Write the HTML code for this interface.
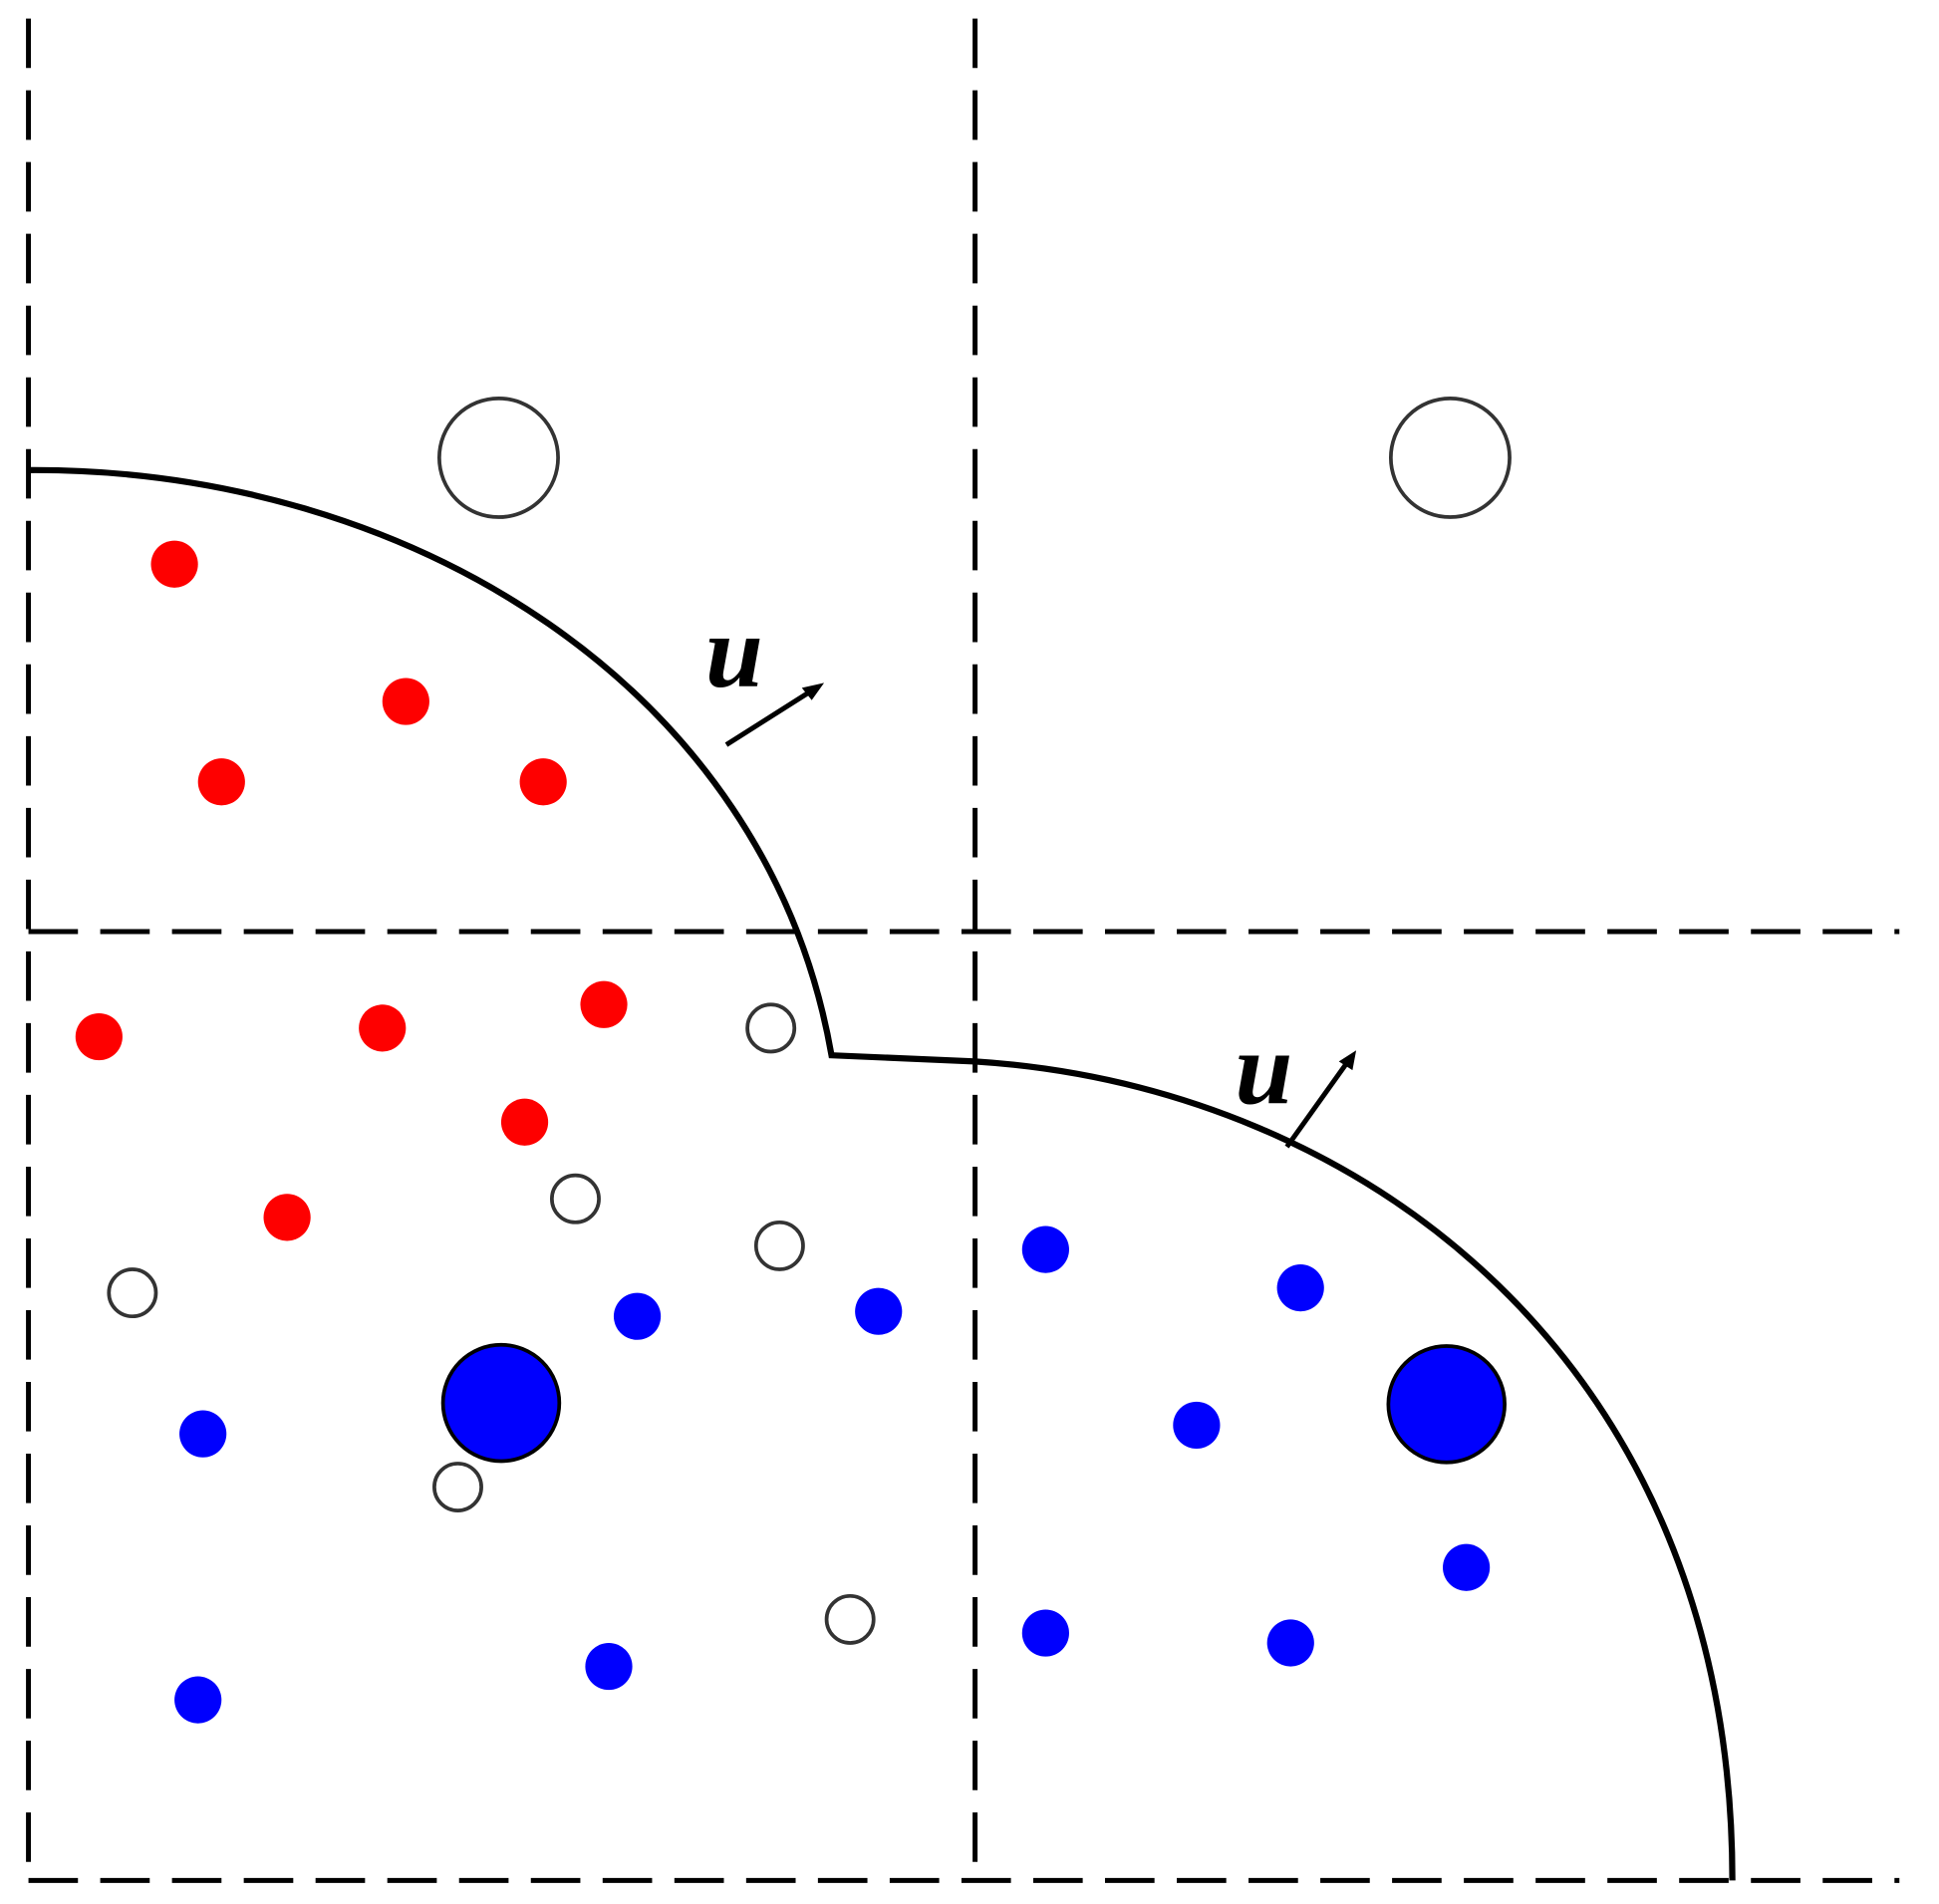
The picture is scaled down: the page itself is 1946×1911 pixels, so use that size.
<!DOCTYPE html>
<html><head><meta charset="utf-8"><style>html,body{margin:0;padding:0;background:#fff}svg{display:block}</style></head>
<body>
<svg width="1946" height="1911" viewBox="0 0 1567 1539" preserveAspectRatio="none" xmlns="http://www.w3.org/2000/svg">
<rect width="1567" height="1539" fill="#fff"/>
<g stroke="#000" stroke-width="4" stroke-dasharray="40 18" fill="none">
<line x1="23" y1="15" x2="23" y2="1520"/>
<line x1="788" y1="15" x2="788" y2="1520"/>
<line x1="23" y1="753" x2="1535" y2="753"/>
<line x1="23" y1="1520" x2="1535" y2="1520"/>
</g>
<g stroke="#000" stroke-width="5" fill="none">
<path d="M23 380 C330 378 620 555 672 853 L788 858"/>
<path d="M788 858 C1100 878 1400 1100 1400 1520"/>
<line x1="587" y1="602" x2="658" y2="557" stroke-width="4"/>
<line x1="1040" y1="927" x2="1090" y2="857" stroke-width="4"/>
</g>
<polygon points="666,552 648,556 656,566" fill="#000"/>
<polygon points="1096,849 1082,858 1093,865" fill="#000"/>
<text x="570" y="555" font-family="Liberation Serif, serif" font-style="italic" font-weight="bold" font-size="84">u</text>
<text x="998" y="892" font-family="Liberation Serif, serif" font-style="italic" font-weight="bold" font-size="84">u</text>
<g fill="none" stroke="#333" stroke-width="3">
<circle cx="403" cy="370" r="48"/>
<circle cx="1172" cy="370" r="48"/>
</g>
<g fill="#fe0000">
<circle cx="141" cy="456" r="19"/><circle cx="328" cy="567" r="19"/><circle cx="179" cy="632" r="19"/>
<circle cx="439" cy="632" r="19"/><circle cx="80" cy="838" r="19"/><circle cx="309" cy="831" r="19"/>
<circle cx="488" cy="812" r="19"/><circle cx="424" cy="907" r="19"/><circle cx="232" cy="984" r="19"/>
</g>
<g fill="#fff" stroke="#333" stroke-width="3">
<circle cx="623" cy="831" r="19"/><circle cx="465" cy="969" r="19"/><circle cx="630" cy="1007" r="19"/>
<circle cx="107" cy="1045" r="19"/><circle cx="370" cy="1202" r="19"/><circle cx="687" cy="1309" r="19"/>
</g>
<g fill="#0000fe">
<circle cx="515" cy="1064" r="19"/><circle cx="710" cy="1060" r="19"/><circle cx="164" cy="1159" r="19"/>
<circle cx="492" cy="1347" r="19"/><circle cx="160" cy="1374" r="19"/><circle cx="845" cy="1010" r="19"/>
<circle cx="1051" cy="1041" r="19"/><circle cx="967" cy="1152" r="19"/><circle cx="1185" cy="1267" r="19"/>
<circle cx="845" cy="1320" r="19"/><circle cx="1043" cy="1328" r="19"/>
</g>
<g fill="#0000fe" stroke="#000" stroke-width="3">
<circle cx="405" cy="1134" r="47"/>
<circle cx="1169" cy="1135" r="47"/>
</g>
</svg>
</body></html>
